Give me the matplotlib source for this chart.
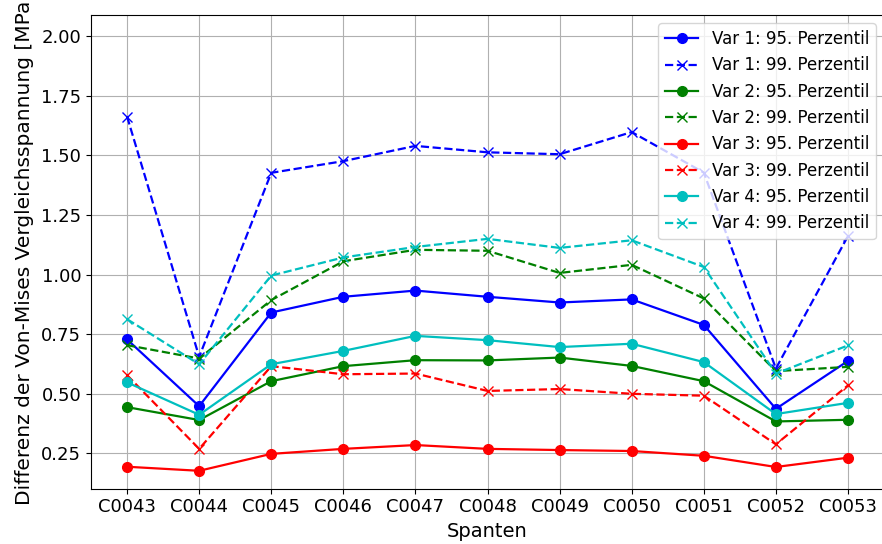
import matplotlib
matplotlib.use("Agg")
import matplotlib.pyplot as plt

plt.rcParams["font.size"] = 12

spanten = ["C0043", "C0044", "C0045", "C0046", "C0047", "C0048",
           "C0049", "C0050", "C0051", "C0052", "C0053"]

var1_p95 = [0.728, 0.448, 0.841, 0.907, 0.933, 0.907, 0.883, 0.896, 0.789, 0.437, 0.638]
var1_p99 = [1.663, 0.655, 1.427, 1.476, 1.540, 1.513, 1.505, 1.598, 1.428, 0.606, 1.162]
var2_p95 = [0.444, 0.390, 0.553, 0.616, 0.641, 0.640, 0.652, 0.617, 0.553, 0.384, 0.391]
var2_p99 = [0.704, 0.648, 0.893, 1.056, 1.104, 1.100, 1.007, 1.041, 0.900, 0.595, 0.613]
var3_p95 = [0.194, 0.177, 0.248, 0.269, 0.285, 0.269, 0.264, 0.260, 0.240, 0.193, 0.232]
var3_p99 = [0.578, 0.269, 0.616, 0.582, 0.585, 0.512, 0.520, 0.500, 0.492, 0.288, 0.535]
var4_p95 = [0.548, 0.412, 0.624, 0.680, 0.743, 0.725, 0.696, 0.710, 0.633, 0.415, 0.462]
var4_p99 = [0.813, 0.624, 0.996, 1.072, 1.116, 1.150, 1.112, 1.144, 1.032, 0.585, 0.703]

series = [
    ("Var 1", "b", var1_p95, var1_p99),
    ("Var 2", "g", var2_p95, var2_p99),
    ("Var 3", "r", var3_p95, var3_p99),
    ("Var 4", "c", var4_p95, var4_p99),
]

fig = plt.figure(figsize=(8.82, 5.44), dpi=100)
ax = fig.add_axes([0.1032, 0.1017, 0.8991, 0.8707])

for name, col, p95, p99 in series:
    ax.plot(spanten, p95, color=col, marker="o", linestyle="-",
            markersize=7, linewidth=1.6, label=f"{name}: 95. Perzentil")
    ax.plot(spanten, p99, color=col, marker="x", linestyle="--",
            markersize=7, linewidth=1.6, label=f"{name}: 99. Perzentil")

ax.set_ylim(0.102, 2.089)
ax.set_xlabel("Spanten", fontsize=14)
ax.set_ylabel("Differenz der Von-Mises Vergleichsspannung [MPa]", fontsize=14.5)
ax.yaxis.set_label_coords(-0.0716, 0.506)
ax.tick_params(labelsize=13)
ax.grid(True)
ax.legend(loc="upper right", fontsize=12)

fig.savefig("out.png", dpi=100)
